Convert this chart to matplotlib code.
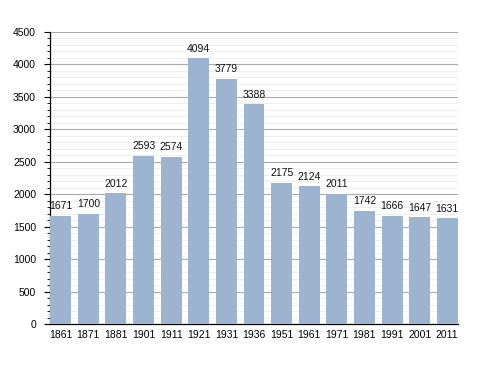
import numpy as np
import matplotlib
matplotlib.use('Agg')
import matplotlib.pyplot as plt
from matplotlib.ticker import MultipleLocator

# Population by census year
years = ['1861', '1871', '1881', '1901', '1911', '1921', '1931', '1936',
         '1951', '1961', '1971', '1981', '1991', '2001', '2011']
population = [1671, 1700, 2012, 2593, 2574, 4094, 3779, 3388,
              2175, 2124, 2011, 1742, 1666, 1647, 1631]

plt.rcParams['font.family'] = ['Liberation Sans', 'DejaVu Sans']

fig = plt.figure(figsize=(4.88, 3.73), dpi=100)
ax = fig.add_axes([50 / 488, 1 - 324 / 373, 408 / 488, 292 / 373])

x = np.arange(len(years))
ax.bar(x, population, width=0.76, color='#9db4d0', zorder=3)

# Value labels above each bar
for xi, v in zip(x, population):
    ax.text(xi, v + 70, str(v), ha='center', va='bottom', fontsize=7.5, color='#111111')

ax.set_xlim(-0.39, 14.39)
ax.set_ylim(0, 4500)
ax.set_xticks(x)
ax.set_xticklabels(years, fontsize=7.5)
ax.yaxis.set_major_locator(MultipleLocator(500))
ax.yaxis.set_minor_locator(MultipleLocator(100))
ax.tick_params(axis='y', which='major', length=4, width=0.8, labelsize=7.5, pad=6)
ax.tick_params(axis='y', which='minor', length=2, width=0.6)
ax.tick_params(axis='x', length=0, pad=4)

ax.grid(axis='y', which='major', color='#aaaaaa', linewidth=0.8, zorder=1)
ax.grid(axis='y', which='minor', color='#ebebeb', linewidth=0.6, zorder=0)

for side in ['top', 'right']:
    ax.spines[side].set_visible(False)
ax.spines['left'].set_linewidth(0.9)
ax.spines['bottom'].set_linewidth(0.9)

fig.savefig('out.png', dpi=100)
